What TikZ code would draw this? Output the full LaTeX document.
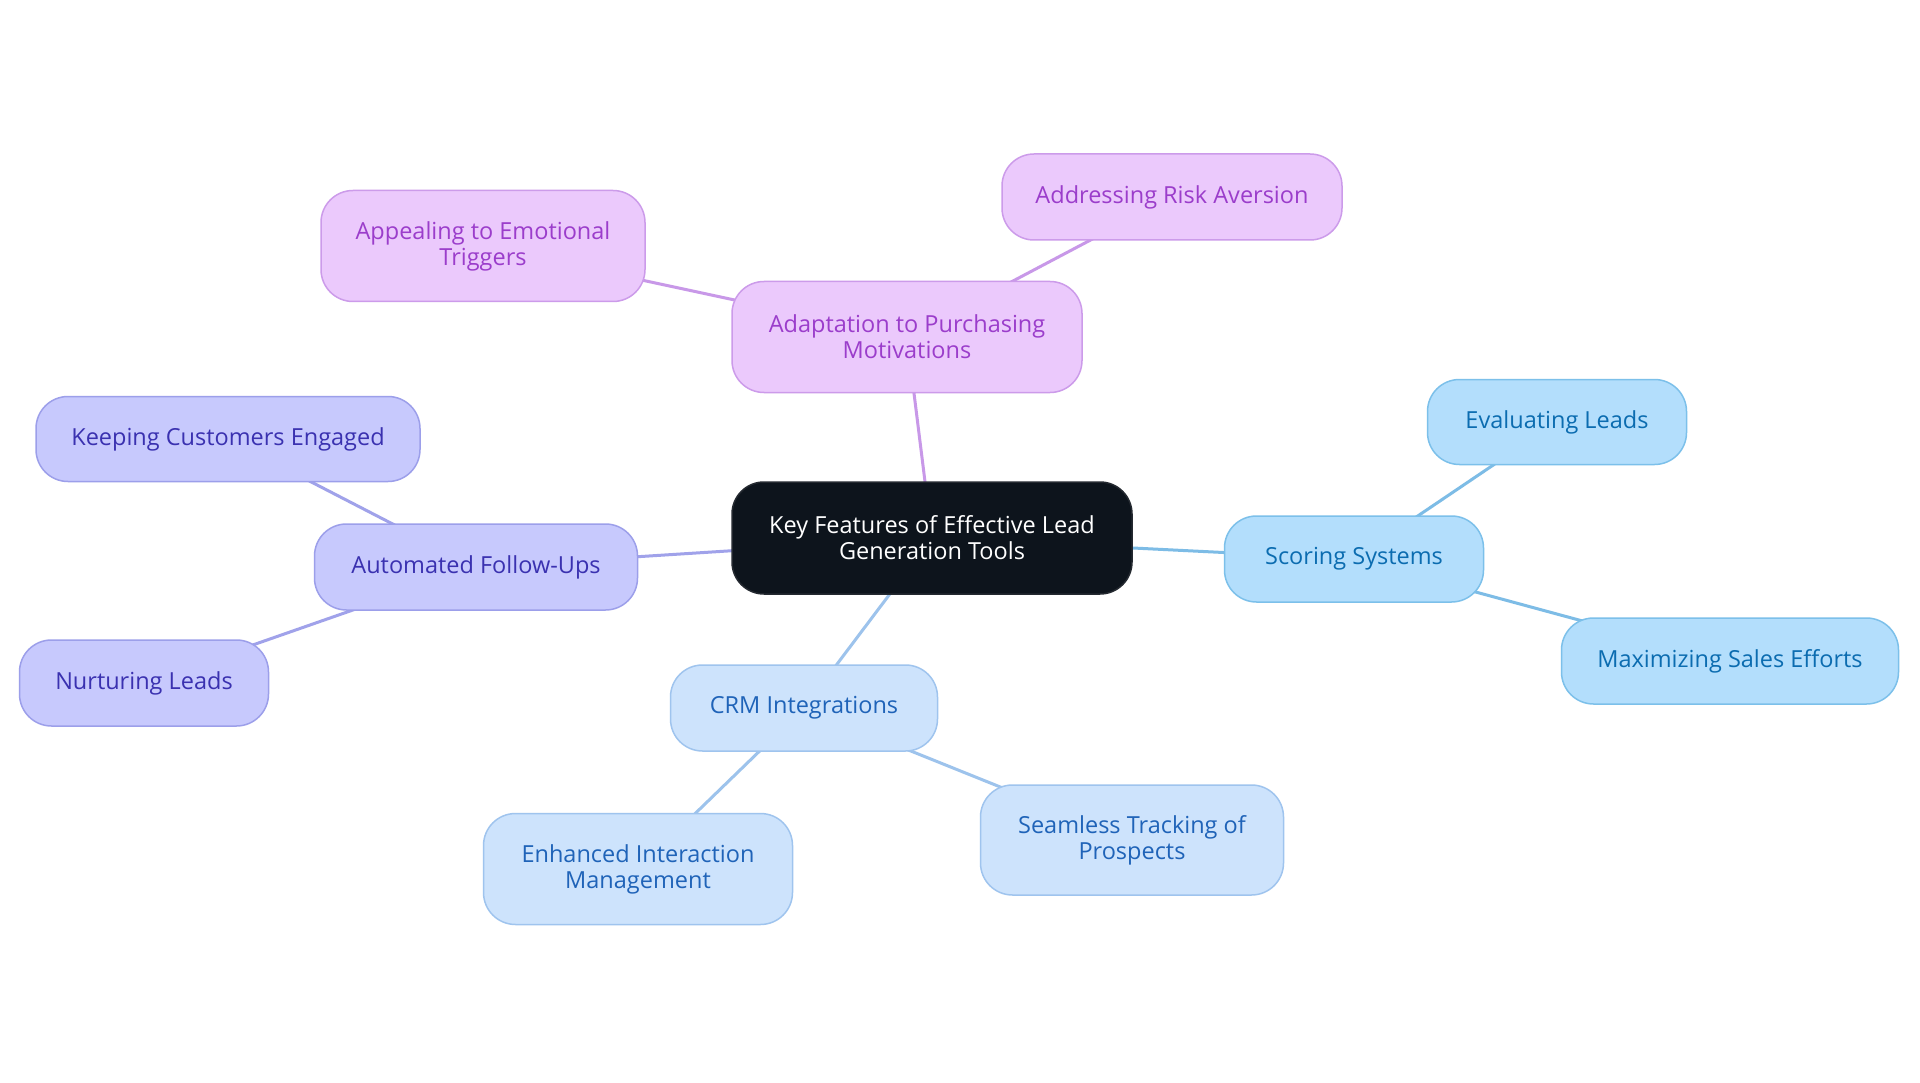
\documentclass[tikz,border=0pt]{standalone}
\usepackage{fontspec}
\setmainfont{Open Sans}
\usetikzlibrary{backgrounds}
\definecolor{pfill}{HTML}{EBC9FC}
\definecolor{pdraw}{HTML}{CC9BEA}
\definecolor{ptext}{HTML}{9B3DCB}
\definecolor{pedge}{HTML}{C898E8}
\definecolor{ifill}{HTML}{C7C9FD}
\definecolor{idraw}{HTML}{9C9FEA}
\definecolor{itext}{HTML}{3A31B0}
\definecolor{iedge}{HTML}{A0A2EA}
\definecolor{sfill}{HTML}{B3DEFC}
\definecolor{sdraw}{HTML}{7CC0EA}
\definecolor{stext}{HTML}{0B6CB0}
\definecolor{sedge}{HTML}{7DBCE6}
\definecolor{cfill}{HTML}{CDE3FC}
\definecolor{cdraw}{HTML}{9FC4EE}
\definecolor{ctext}{HTML}{1F63B8}
\definecolor{cedge}{HTML}{9DC3EC}
\definecolor{dark}{HTML}{0D141C}
\begin{document}
\begin{tikzpicture}[x=1pt,y=-1pt,
  box/.style={rounded corners=32pt,line width=1.5pt,align=center,
    font=\fontsize{23.5}{26}\selectfont,inner sep=0pt},
  rootbox/.style={box,fill=dark,draw=dark!80!gray,text=white},
  pbox/.style={box,fill=pfill,draw=pdraw,text=ptext},
  ibox/.style={box,fill=ifill,draw=idraw,text=itext},
  sbox/.style={box,fill=sfill,draw=sdraw,text=stext},
  cbox/.style={box,fill=cfill,draw=cdraw,text=ctext},
  link/.style={line width=3pt},
]
\useasboundingbox (0,0) rectangle (1920,1083);

\node[rootbox,minimum width=400pt,minimum height=112pt] (root) at (932,538) {Key Features of Effective Lead\\Generation Tools};

\node[pbox,minimum width=350pt,minimum height=111pt] (adapt) at (907,337) {Adaptation to Purchasing\\Motivations};
\node[pbox,minimum width=324pt,minimum height=111pt] (appeal) at (483,246) {Appealing to Emotional\\Triggers};
\node[pbox,minimum width=340pt,minimum height=86pt] (risk) at (1172,197) {Addressing Risk Aversion};

\node[ibox,minimum width=323pt,minimum height=86pt] (auto) at (476,567) {Automated Follow-Ups};
\node[ibox,minimum width=384pt,minimum height=85pt] (keep) at (228,439) {Keeping Customers Engaged};
\node[ibox,minimum width=249pt,minimum height=86pt] (nurt) at (144,683) {Nurturing Leads};

\node[sbox,minimum width=259pt,minimum height=86pt] (score) at (1354,559) {Scoring Systems};
\node[sbox,minimum width=259pt,minimum height=85pt] (eval) at (1557,422) {Evaluating Leads};
\node[sbox,minimum width=337pt,minimum height=86pt] (maxi) at (1730,661) {Maximizing Sales Efforts};

\node[cbox,minimum width=267pt,minimum height=86pt] (crm) at (804,708) {CRM Integrations};
\node[cbox,minimum width=309pt,minimum height=111pt] (enh) at (638,869) {Enhanced Interaction\\Management};
\node[cbox,minimum width=303pt,minimum height=110pt] (seam) at (1132,840) {Seamless Tracking of\\Prospects};

\begin{scope}[on background layer]
\fill[white] (0,0) rectangle (1920,1083);
\draw[link,pedge] (root.center) -- (adapt.center);
\draw[link,pedge] (adapt.center) -- (appeal.center);
\draw[link,pedge] (adapt.center) -- (risk.center);
\draw[link,iedge] (root.center) -- (auto.center);
\draw[link,iedge] (auto.center) -- (keep.center);
\draw[link,iedge] (auto.center) -- (nurt.center);
\draw[link,sedge] (root.center) -- (score.center);
\draw[link,sedge] (score.center) -- (eval.center);
\draw[link,sedge] (score.center) -- (maxi.center);
\draw[link,cedge] (root.center) -- (crm.center);
\draw[link,cedge] (crm.center) -- (enh.center);
\draw[link,cedge] (crm.center) -- (seam.center);
\end{scope}
\end{tikzpicture}
\end{document}
